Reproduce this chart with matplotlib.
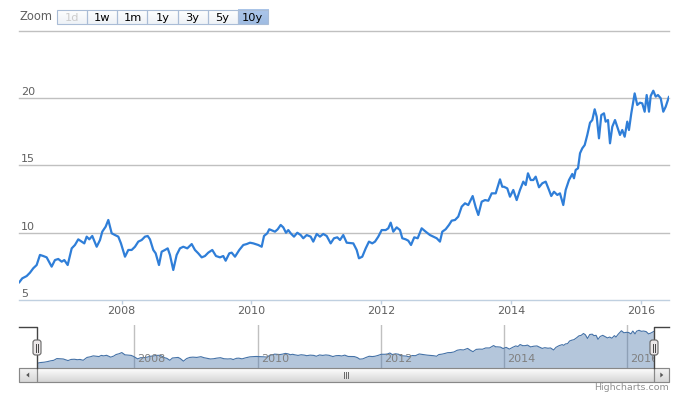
import numpy as np
import matplotlib
matplotlib.use('Agg')
import matplotlib.pyplot as plt
from matplotlib.patches import Rectangle, FancyBboxPatch, Polygon
import matplotlib.transforms as mtransforms

# ---------------- data ----------------
years = [
    2006.418, 2006.468, 2006.536, 2006.587, 2006.638, 2006.690, 2006.741, 2006.792, 2006.844, 2006.921,
    2006.972, 2007.023, 2007.076, 2007.116, 2007.168, 2007.230, 2007.280, 2007.331, 2007.384, 2007.424,
    2007.461, 2007.501, 2007.547, 2007.615, 2007.666, 2007.701, 2007.753, 2007.794, 2007.846, 2007.897,
    2007.948, 2007.989, 2008.051, 2008.102, 2008.154, 2008.205, 2008.256, 2008.308, 2008.359, 2008.401,
    2008.436, 2008.487, 2008.524, 2008.575, 2008.616, 2008.667, 2008.709, 2008.744, 2008.795, 2008.847,
    2008.898, 2008.949,
    2009.011, 2009.079, 2009.129, 2009.180, 2009.233, 2009.283, 2009.334, 2009.396, 2009.453, 2009.515,
    2009.565, 2009.602, 2009.658, 2009.695, 2009.746, 2009.812, 2009.874, 2009.926, 2009.977, 2010.028,
    2010.105, 2010.157, 2010.193, 2010.243, 2010.274, 2010.327, 2010.362, 2010.404, 2010.450, 2010.490,
    2010.532, 2010.567, 2010.604, 2010.655, 2010.706, 2010.758, 2010.798, 2010.851, 2010.912, 2010.952,
    2011.005, 2011.055, 2011.106, 2011.159, 2011.220, 2011.271, 2011.322, 2011.364, 2011.414, 2011.467,
    2011.569, 2011.621, 2011.656, 2011.707, 2011.760, 2011.810, 2011.861, 2011.903, 2011.954, 2012.006,
    2012.068, 2012.108, 2012.145, 2012.185, 2012.237, 2012.288, 2012.324, 2012.376, 2012.416, 2012.458,
    2012.508, 2012.561, 2012.622, 2012.684, 2012.750, 2012.801, 2012.854, 2012.904, 2012.940, 2012.992,
    2013.043, 2013.085, 2013.136, 2013.186, 2013.239, 2013.290, 2013.340, 2013.408, 2013.455, 2013.495,
    2013.547, 2013.598, 2013.649, 2013.701, 2013.763, 2013.829, 2013.864,
    2013.890, 2013.941, 2013.983, 2014.034, 2014.086, 2014.137, 2014.188, 2014.225, 2014.260, 2014.302,
    2014.342, 2014.379, 2014.430, 2014.481, 2014.533, 2014.584, 2014.619, 2014.661, 2014.712, 2014.753,
    2014.804, 2014.841, 2014.892, 2014.943, 2014.969, 2014.995, 2015.031, 2015.062, 2015.097, 2015.134,
    2015.174, 2015.216, 2015.251, 2015.288, 2015.319, 2015.354, 2015.390, 2015.431, 2015.457, 2015.493,
    2015.524, 2015.559, 2015.601, 2015.636, 2015.678, 2015.713, 2015.750, 2015.790, 2015.816, 2015.852,
    2015.883, 2015.904, 2015.944, 2015.986, 2016.021, 2016.058, 2016.089, 2016.125, 2016.151, 2016.191,
    2016.228, 2016.263, 2016.305, 2016.345, 2016.382, 2016.433,
]
prices = [
    6.29, 6.61, 6.78, 7.03, 7.36, 7.60, 8.35, 8.27, 8.17, 7.48,
    7.97, 8.05, 7.85, 7.97, 7.60, 8.84, 9.09, 9.51, 9.34, 9.21,
    9.71, 9.51, 9.76, 8.96, 9.46, 10.08, 10.45, 10.95, 9.96, 9.83,
    9.71, 9.21, 8.22, 8.72, 8.72, 8.96, 9.34, 9.46, 9.71, 9.76,
    9.51, 8.72, 8.47, 7.60, 8.59, 8.72, 8.84, 8.35, 7.23, 8.35,
    8.84, 8.96,
    8.84, 9.16, 8.72, 8.47, 8.17, 8.27, 8.52, 8.72, 8.27, 8.17,
    8.27, 7.92, 8.47, 8.52, 8.22, 8.72, 9.09, 9.16, 9.26, 9.21,
    9.09, 8.96, 9.76, 9.96, 10.26, 10.15, 10.08, 10.26, 10.58, 10.40,
    10.00, 10.20, 9.96, 9.71, 10.00, 9.83, 9.59, 9.83, 9.71, 9.34,
    9.91, 9.71, 9.91, 9.76, 9.21, 9.59, 9.66, 9.46, 9.83, 9.26,
    9.21, 8.72, 8.10, 8.22, 8.84, 9.34, 9.21, 9.34, 9.71, 10.20,
    10.20, 10.33, 10.75, 10.08, 10.40, 10.20, 9.59, 9.51, 9.41, 9.09,
    9.66, 9.59, 10.33, 10.08, 9.83, 9.71, 9.59, 9.34, 10.08, 10.26,
    10.58, 10.90, 10.95, 11.20, 11.94, 12.19, 12.06, 12.73, 11.89, 11.32,
    12.31, 12.43, 12.38, 12.93, 12.93, 13.97, 13.42,
    13.42, 13.30, 12.68, 13.18, 12.43, 13.18, 13.80, 13.55, 14.42, 13.92,
    13.92, 14.17, 13.38, 13.68, 13.80, 13.18, 12.73, 13.05, 12.81, 12.93,
    12.06, 13.18, 13.92, 14.37, 14.05, 14.67, 14.79, 15.91, 16.28, 16.52,
    17.27, 18.18, 18.38, 19.18, 18.63, 17.02, 18.75, 18.88, 18.26, 18.38,
    16.65, 17.88, 18.38, 17.88, 17.27, 17.64, 17.14, 18.26, 17.64, 18.88,
    19.74, 20.36, 19.50, 19.67, 19.62, 19.00, 20.24, 19.00, 20.17, 20.56,
    20.12, 20.24, 20.00, 19.00, 19.37, 20.12,
]
y_label_values = [5, 10, 15, 20]
y_grid_values = [10, 15, 20, 25]
x_tick_years = [2008, 2010, 2012, 2014, 2016]
x_tick_labels = ['2008', '2010', '2012', '2014', '2016']
zoom_buttons = ['1d', '1w', '1m', '1y', '3y', '5y', '10y']
selected_button = '10y'
disabled_buttons = ['1d']
credit_text = 'Highcharts.com'

# ---------------- layout ----------------
W, H = 674, 398
plt.rcParams['font.family'] = ['DejaVu Sans']
fig = plt.figure(figsize=(W / 100, H / 100), dpi=100)
fig.patch.set_facecolor('white')


def frac(x0, y0, x1, y1):
    return [x0 / W, 1 - y1 / H, (x1 - x0) / W, (y1 - y0) / H]


PL, PR, PT, PB = 19, 669, 31, 300          # main plot box (px)
NL, NR, NT, NB = 37, 654, 325, 368         # navigator box (px)
SB_T, SB_B = 368, 382                      # scrollbar

# ---------------- main chart ----------------
ax = fig.add_axes(frac(PL, PT, PR, PB))
ax.set_xlim(years[0], years[-1])
ax.set_ylim(5, 25)
for s in ['top', 'right', 'left']:
    ax.spines[s].set_visible(False)
ax.spines['bottom'].set_color('#C0D0E0')
ax.spines['bottom'].set_linewidth(1)
for g in y_grid_values:
    ax.axhline(g, color='#C0C0C0', lw=1, zorder=1, clip_on=False)
ax.plot(years, prices, color='#2f7ed8', lw=1.6, zorder=3,
        solid_joinstyle='round', solid_capstyle='round')
ax.set_yticks([])
ax.set_xticks(x_tick_years)
ax.set_xticklabels(x_tick_labels)
ax.tick_params(axis='x', length=3, width=1, color='#C0D0E0',
               labelsize=8, labelcolor='#606060', pad=1.5)
ytr = mtransforms.offset_copy(ax.get_yaxis_transform(), fig=fig, x=2, y=3, units='dots')
for v in y_label_values:
    ax.text(0, v, str(v), transform=ytr, ha='left', va='baseline',
            fontsize=8, color='#606060')

# ---------------- navigator ----------------
nav = fig.add_axes(frac(NL, NT, NR, NB))
nav.set_xlim(years[0], years[-1])
nav_bottom = 4.27
nav.set_ylim(nav_bottom, 22.85)
for s in nav.spines.values():
    s.set_visible(False)
nav.set_xticks([])
nav.set_yticks([])
for t in x_tick_years:
    nav.axvline(t, color='#C0C0C0', lw=1, zorder=1)
nav.fill_between(years, prices, nav_bottom, color='#4572A7', alpha=0.4, lw=0, zorder=2)
nav.plot(years, prices, color='#4572A7', lw=0.8, zorder=3)
ntr = mtransforms.offset_copy(nav.get_xaxis_transform(), fig=fig, x=3, y=0, units='dots')
for t, lab in zip(x_tick_years, x_tick_labels):
    nav.text(t, 0.2, lab, transform=ntr, ha='left', va='center', fontsize=8,
             color='#808080', clip_on=True, zorder=4)

# ---------------- overlay decorations (pixel space) ----------------
ov = fig.add_axes([0, 0, 1, 1], zorder=10)
ov.set_xlim(0, W)
ov.set_ylim(H, 0)
ov.axis('off')
ov.patch.set_alpha(0)


def grad(x0, y0, x1, y1, c_top, c_bot):
    a = np.array(matplotlib.colors.to_rgb(c_top))
    b = np.array(matplotlib.colors.to_rgb(c_bot))
    t = np.linspace(0, 1, 32)[:, None, None]
    img = a * (1 - t) + b * t
    ov.imshow(img, extent=(x0, x1, y1, y0), aspect='auto', interpolation='bilinear', zorder=1)


# navigator outline
ov.plot([PL, NL, NL], [NT + 2, NT + 2, NB], color='#444444', lw=1, zorder=5)
ov.plot([NR, NR, PR], [NB, NT + 2, NT + 2], color='#444444', lw=1, zorder=5)

# scrollbar
grad(PL, SB_T, PR, SB_B, '#FFFFFF', '#D5D5D5')
ov.add_patch(Rectangle((PL, SB_T), PR - PL, SB_B - SB_T, fill=False, ec='#BBBBBB', lw=0.8, zorder=2))
ov.add_patch(Rectangle((NL, SB_T), NR - NL, SB_B - SB_T, fill=False, ec='#888888', lw=0.8, zorder=3))
for bx0, bx1, d in [(PL, NL, -1), (NR, PR, 1)]:
    grad(bx0, SB_T, bx1, SB_B, '#F4F4F4', '#D8D8D8')
    ov.add_patch(Rectangle((bx0, SB_T), bx1 - bx0, SB_B - SB_T, fill=False, ec='#888888', lw=0.8, zorder=3))
    cx, cy = (bx0 + bx1) / 2, (SB_T + SB_B) / 2
    ov.add_patch(Polygon([[cx + d * 1.8, cy], [cx - d * 1.2, cy - 2.5], [cx - d * 1.2, cy + 2.5]],
                         closed=True, fc='#555555', ec='none', zorder=4))
sc = (NL + NR) / 2
for dx in (-2, 0, 2):
    ov.plot([sc + dx, sc + dx], [SB_T + 4, SB_B - 4], color='#666666', lw=0.7, zorder=4)

# navigator handles
for hx in (NL, NR):
    ov.add_patch(FancyBboxPatch((hx - 4, 340), 8, 15, boxstyle='round,pad=0,rounding_size=2.5',
                                fc='#EBE7E8', ec='#666666', lw=0.8, zorder=6))
    for dx in (-1.2, 1.2):
        ov.plot([hx + dx, hx + dx], [343.5, 351.5], color='#444444', lw=0.7, zorder=7)

# zoom buttons
ov.text(PL + 1, 17, 'Zoom', ha='left', va='center', fontsize=8.3, color='#606060', zorder=5)
bx, bw, by, bh = 57.3, 30.05, 10, 14.3
for i, lab in enumerate(zoom_buttons):
    x0 = bx + i * bw
    if lab == selected_button:
        grad(x0, by, x0 + bw, by + bh, '#ACC6EA', '#9FBCE2')
        tc = '#000000'
    else:
        grad(x0, by, x0 + bw, by + bh, '#FFFFFF', '#EEF2F7')
        tc = '#CCCCCC' if lab in disabled_buttons else '#000000'
    ov.add_patch(Rectangle((x0, by), bw, bh, fill=False, ec='#A9BCD6', lw=0.8, zorder=3))
    ov.text(x0 + bw / 2, by + bh / 2 + 0.5, lab, ha='center', va='center', fontsize=8.2, color=tc, zorder=5)

# credits
ov.text(PR, 388, credit_text, ha='right', va='center', fontsize=6.8, color='#909090', zorder=5)

ov.set_xlim(0, W)
ov.set_ylim(H, 0)

fig.savefig('out.png', dpi=100)
